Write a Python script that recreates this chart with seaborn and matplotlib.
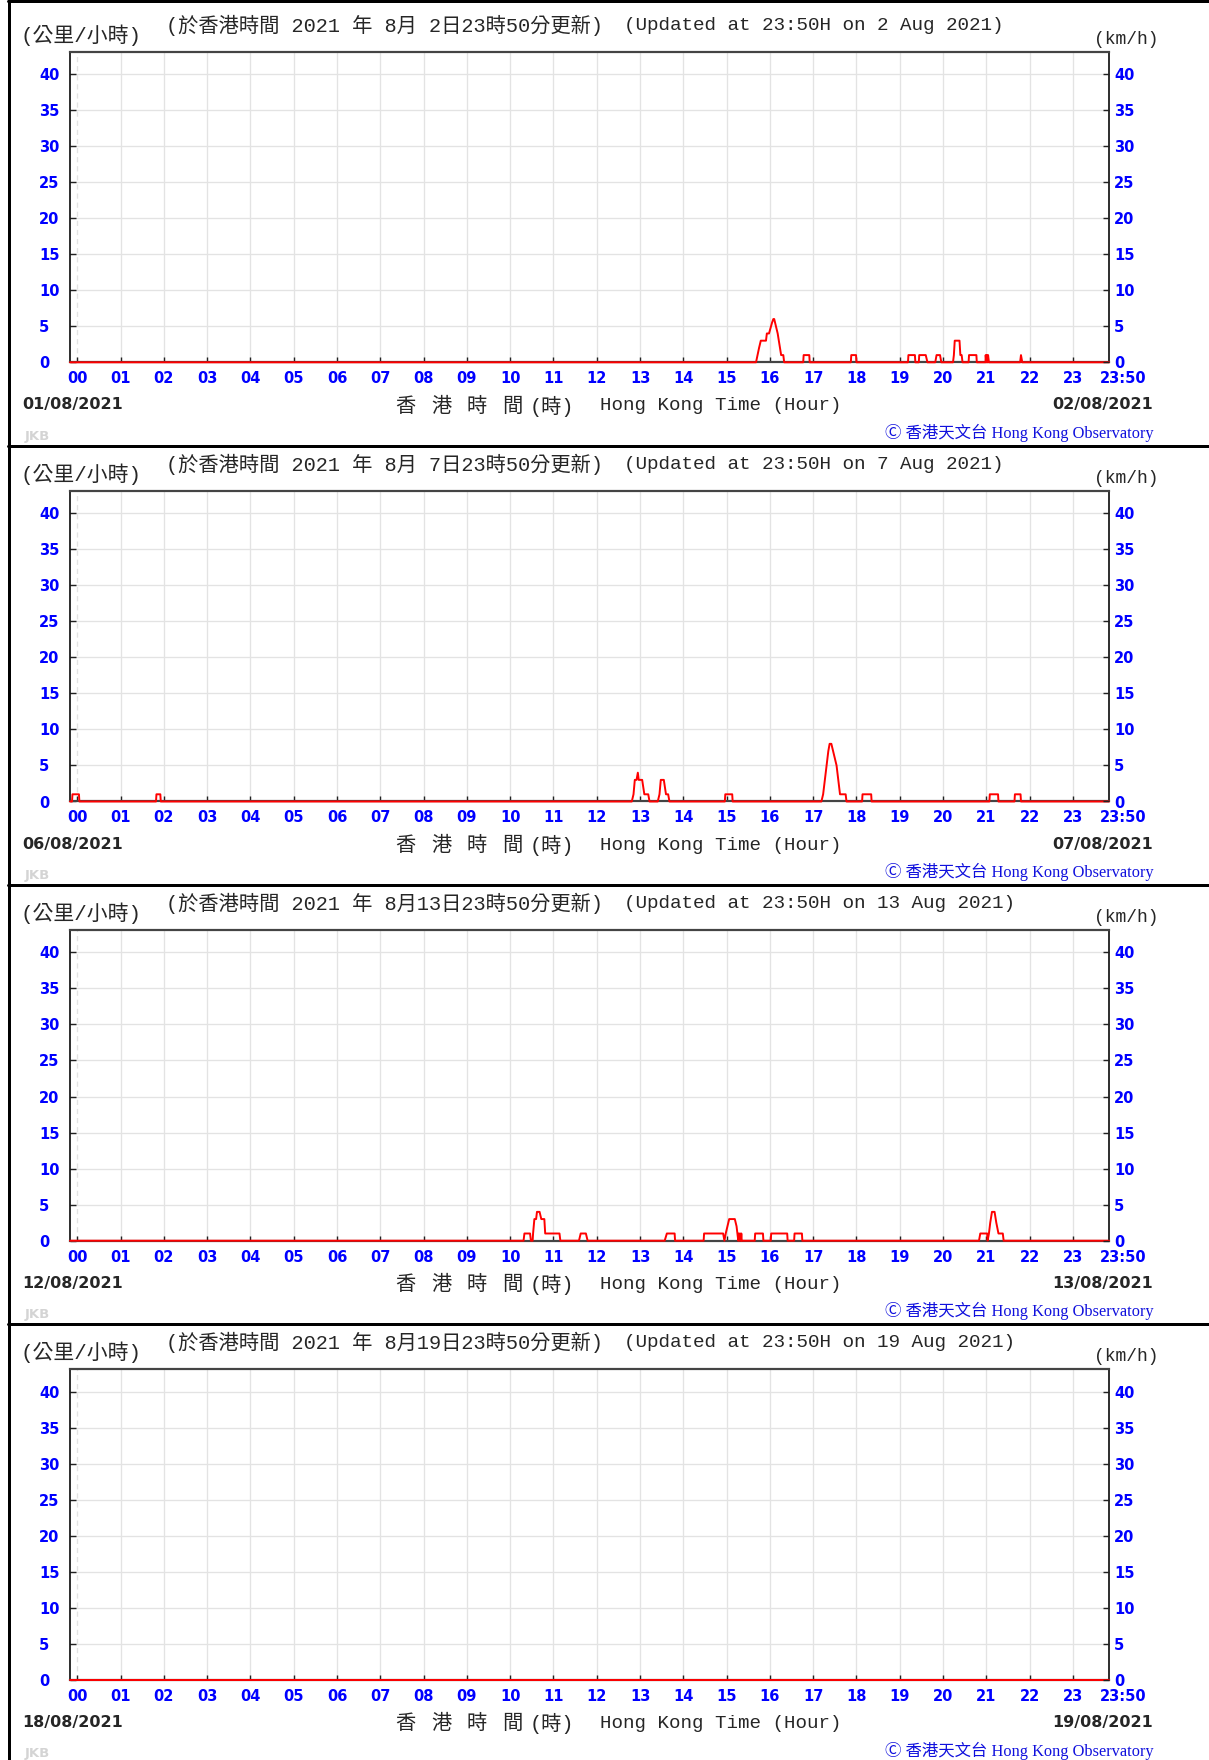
import numpy as np
import pandas as pd
import matplotlib
matplotlib.use("Agg")
import matplotlib.pyplot as plt
import seaborn as sns
from matplotlib.lines import Line2D

# ---------------- data ----------------
hours = list(range(24))
hour_labels = [f"{h:02d}" for h in hours]
speed_ticks = [0, 5, 10, 15, 20, 25, 30, 35, 40]

start_date = ["01/08/2021", "06/08/2021", "12/08/2021", "18/08/2021"]
end_date = ["02/08/2021", "07/08/2021", "13/08/2021", "19/08/2021"]
zh_day = [" 2", " 7", "13", "19"]
en_day = ["2", "7", "13", "19"]

# panel 1 : wind speed (km/h) vs hour
p1_t = [-0.1667, 15.68, 15.75, 15.79, 15.91, 15.93, 15.98, 16.05, 16.08, 16.10, 16.14, 16.18, 16.22, 16.26, 16.31, 16.33,
        16.77, 16.78, 16.91, 16.92, 17.87, 17.88, 17.99, 18.00, 19.19, 19.20, 19.35, 19.36,
        19.44, 19.45, 19.60, 19.64, 19.82, 19.85, 19.93, 19.96,
        20.23, 20.25, 20.27, 20.38, 20.40, 20.43, 20.45, 20.59, 20.60, 20.77, 20.78,
        20.98, 20.985, 21.00, 21.01, 21.03, 21.04, 21.06, 21.78, 21.80, 21.83, 23.8333]
p1_v = [0, 0, 2, 3, 3, 4, 4, 5.5, 6, 6, 5, 4, 2.5, 1, 1, 0,
        0, 1, 1, 0, 0, 1, 1, 0, 0, 1, 1, 0,
        0, 1, 1, 0, 0, 1, 1, 0,
        0, 1, 3, 3, 1, 1, 0, 0, 1, 1, 0,
        0, 1, 0, 1, 0, 1, 0, 0, 1, 0, 0]

# panel 2
p2_t = [-0.1667, -0.12, -0.11, 0.04, 0.05, 1.82, 1.83, 1.92, 1.93,
        12.81, 12.85, 12.88, 12.92, 12.95, 12.97, 13.05, 13.10, 13.19, 13.22,
        13.41, 13.45, 13.48, 13.55, 13.60, 13.65, 13.68,
        14.96, 14.97, 15.13, 15.14,
        17.19, 17.23, 17.27, 17.31, 17.35, 17.38, 17.42, 17.46, 17.50, 17.54, 17.58, 17.62, 17.75, 17.77,
        18.13, 18.14, 18.34, 18.35, 21.07, 21.08, 21.27, 21.28, 21.65, 21.66, 21.79, 21.80, 23.8333]
p2_v = [0, 0, 1, 1, 0, 0, 1, 1, 0,
        0, 1, 3, 3, 4, 3, 3, 1, 1, 0,
        0, 1, 3, 3, 1, 1, 0,
        0, 1, 1, 0,
        0, 1, 3, 5, 7, 8, 8, 7, 6, 5, 3, 1, 1, 0,
        0, 1, 1, 0, 0, 1, 1, 0, 0, 1, 1, 0, 0]

# panel 3
p3_t = [-0.1667, 10.31, 10.33, 10.46, 10.48, 10.52, 10.53, 10.56, 10.60, 10.62, 10.68, 10.72, 10.79, 10.81, 11.14, 11.16,
        11.59, 11.63, 11.75, 11.79, 13.57, 13.62, 13.80, 13.81,
        14.47, 14.48, 14.92, 14.95, 14.98, 15.02, 15.06, 15.19, 15.23, 15.25, 15.27, 15.28, 15.30, 15.31, 15.33, 15.34, 15.35,
        15.65, 15.66, 15.84, 15.85, 16.02, 16.03, 16.40, 16.41, 16.56, 16.57, 16.74, 16.75,
        20.83, 20.86, 21.02, 21.03, 21.06, 21.09, 21.13, 21.19, 21.23, 21.28, 21.38, 21.40, 23.8333]
p3_v = [0, 0, 1, 1, 0, 0, 1, 3, 3, 4, 4, 3, 3, 1, 1, 0,
        0, 1, 1, 0, 0, 1, 1, 0,
        0, 1, 1, 0, 1, 2, 3, 3, 2, 1, 0, 1, 0, 1, 0, 1, 0,
        0, 1, 1, 0, 0, 1, 1, 0, 0, 1, 1, 0,
        0, 1, 1, 0, 1, 2.5, 4, 4, 2.5, 1, 1, 0, 0]

# panel 4
p4_t = [-0.1667, 23.8333]
p4_v = [0, 0]

panels_t = [p1_t, p2_t, p3_t, p4_t]
panels_v = [p1_v, p2_v, p3_v, p4_v]

# ---------------- styling ----------------
sns.set_theme(style="white")
plt.rcParams["font.family"] = ["DejaVu Sans", "Noto Sans CJK TC"]

W, H = 1209, 1760
fig = plt.figure(figsize=(W / 100, H / 100), dpi=100)

PITCH = 439.2
AX_L, AX_R, AX_T, AX_B = 70, 1109, 51.6, 362.3
BLUE = "#0000ff"
MONO = ["Liberation Mono", "Noto Sans CJK TC"]
PX = 72 / 100  # points per pixel


def fx(x):
    return x / W


def fy(y):
    return 1 - y / H


for k in range(4):
    off = k * PITCH
    ax = fig.add_axes([fx(AX_L), fy(AX_B + off), (AX_R - AX_L) / W, (AX_B - AX_T) / H])
    df = pd.DataFrame({"t": panels_t[k], "v": panels_v[k]})
    sns.lineplot(data=df, x="t", y="v", ax=ax, color="#ff0000", linewidth=1.4,
                 sort=False, estimator=None, clip_on=False, zorder=5)
    ax.set_xlim(-1 / 6, 23 + 5 / 6)
    ax.set_ylim(0, 43.1)
    ax.set_xlabel("")
    ax.set_ylabel("")

    ax.set_xticks(hours)
    ax.set_xticklabels(hour_labels, color=BLUE, fontweight="bold", fontsize=10.5)
    ax.set_yticks(speed_ticks)
    ax.set_yticklabels([str(v) for v in speed_ticks], color=BLUE, fontweight="bold", fontsize=10.5)
    for lab in ax.get_yticklabels():
        lab.set_horizontalalignment("left")
    ax.tick_params(axis="x", direction="in", length=5 * PX, width=1.4 * PX, color="#222222",
                   pad=9 * PX, bottom=True)
    ax.tick_params(axis="y", direction="in", length=6 * PX, width=1.4 * PX, color="#222222",
                   pad=31 * PX, left=True, right=False)

    ax.grid(True, color="#e3e3e3", linewidth=1.3 * PX)
    ax.set_axisbelow(True)
    ax.get_xgridlines()[0].set_linestyle((0, (4, 3)))

    for s in ["left", "right"]:
        ax.spines[s].set_color("#000000")
        ax.spines[s].set_linewidth(1.6 * PX)
    ax.spines["top"].set_color("#444444")
    ax.spines["top"].set_linewidth(2.2 * PX)
    ax.spines["bottom"].set_color("#444444")
    ax.spines["bottom"].set_linewidth(2.2 * PX)

    ax2 = ax.twinx()
    ax2.set_ylim(0, 43.1)
    ax2.set_yticks(speed_ticks)
    ax2.set_yticklabels([str(v) for v in speed_ticks], color=BLUE, fontweight="bold", fontsize=10.5)
    ax2.tick_params(axis="y", direction="in", length=6 * PX, width=1.4 * PX, color="#222222",
                    pad=5 * PX, right=True, left=False)
    ax2.grid(False)
    for s in ax2.spines.values():
        s.set_visible(False)

    ax.annotate("23:50", xy=(23 + 5 / 6, 0), xycoords=("data", "axes fraction"),
                xytext=(14, -9), textcoords="offset pixels", ha="center", va="top",
                color=BLUE, fontweight="bold", fontsize=10.5)

    # header texts
    fig.text(fx(21), fy(35 + off), "(公里/小時)", family=MONO, fontsize=15, ha="left", va="center")
    zh_header = f"(於香港時間 2021 年 8月{zh_day[k]}日23時50分更新)"
    fig.text(fx(166), fy(25 + off), zh_header, family=MONO, fontsize=14.6, ha="left", va="center")
    en_header = f"(Updated at 23:50H on {en_day[k]} Aug 2021)"
    fig.text(fx(624), fy(25 + off), en_header, family=MONO, fontsize=13.9, ha="left", va="center")
    fig.text(fx(1094), fy(39 + off), "(km/h)", family=MONO, fontsize=13, ha="left", va="center")

    # footer texts
    fig.text(fx(22), fy(405 + off), start_date[k], fontweight="bold", fontsize=11.5, ha="left", va="center")
    fig.text(fx(1153), fy(405 + off), end_date[k], fontweight="bold", fontsize=11.5, ha="right", va="center")
    for xpos, ch in zip([395, 431, 467, 502], ["香", "港", "時", "間"]):
        fig.text(fx(xpos), fy(406 + off), ch, family=MONO, fontsize=14.6, ha="left", va="center")
    fig.text(fx(530), fy(406 + off), "(時)", family=MONO, fontsize=14.6, ha="left", va="center")
    fig.text(fx(600), fy(406 + off), "Hong Kong Time (Hour)", family=MONO, fontsize=13.8, ha="left", va="center")
    fig.text(fx(25), fy(436 + off), "JKB", color="#d4d4d4", fontweight="bold", fontsize=9.5, ha="left", va="center")
    fig.text(fx(885), fy(433 + off), "Ⓒ 香港天文台 Hong Kong Observatory", color="#1010dd",
             family=["Liberation Serif", "DejaVu Sans", "Noto Sans CJK TC"], fontsize=11.8, ha="left", va="center")

# panel frame lines
fig.add_artist(Line2D([fx(8), 1], [fy(1.5), fy(1.5)], color="black", linewidth=3 * PX))
for k in range(3):
    yy = 445.7 + k * 439.0
    fig.add_artist(Line2D([fx(8), 1], [fy(yy), fy(yy)], color="black", linewidth=3 * PX))
fig.add_artist(Line2D([fx(9), fx(9)], [0, 1], color="black", linewidth=3 * PX))

fig.savefig("out.png", dpi=100)
